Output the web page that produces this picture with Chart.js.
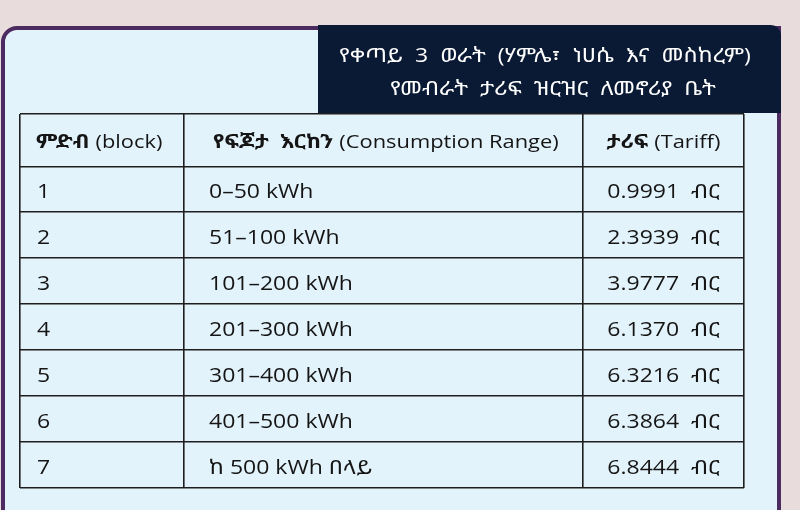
<!DOCTYPE html>
<html>
<head>
<meta charset="utf-8">
<script src="https://cdn.jsdelivr.net/npm/chart.js@4.4.1/dist/chart.umd.min.js"></script>
<style>
html,body{margin:0;padding:0;background:#e8dcdc;}
#wrap{width:800px;height:510px;position:relative;}
</style>
</head>
<body>
<div id="wrap"><canvas id="c" width="800" height="510"></canvas></div>
<script>
// ---- data ----
const titleLines = ['የቀጣይ  3  ወራት  (ሃምሌ፣  ነሀሴ  እና  መስከረም)', 'የመብራት  ታሪፍ  ዝርዝር  ለመኖሪያ  ቤት'];
const headerAm = ['ምድብ', 'የፍጆታ  እርከን', 'ታሪፍ'];
const headerEn = ['(block)', '(Consumption Range)', '(Tariff)'];
const blocks = ['1', '2', '3', '4', '5', '6', '7'];
const ranges = ['0–50 kWh', '51–100 kWh', '101–200 kWh', '201–300 kWh', '301–400 kWh', '401–500 kWh', 'ከ 500 kWh በላይ'];
const tariffs = [0.9991, 2.3939, 3.9777, 6.1370, 6.3216, 6.3864, 6.8444];
const currency = 'ብር';

// ---- layout (table units) ----
const colEdges = [0, 164, 563, 724];
const rowEdges = [0, 53, 98, 144, 190, 236, 282, 328, 374];
const rowMid = i => (rowEdges[i] + rowEdges[i + 1]) / 2;
const FONT = '"Open Sans", "Noto Sans Ethiopic", "Abyssinica SIL", "Noto Sans", sans-serif';
const SX = 1.15;

const headerDs = {
  label: 'header', kind: 'header',
  data: headerAm.map((h, c) => ({ x: c === 2 ? (colEdges[2] + colEdges[3]) / 2 : colEdges[c] + (c === 0 ? 16 : 29), y: rowMid(0) })),
  am: headerAm, en: headerEn, align: ['left', 'left', 'center'],
  pointRadius: 0, showLine: false
};
const blockDs = {
  label: 'block', kind: 'cell',
  data: blocks.map((b, i) => ({ x: colEdges[0] + 17, y: rowMid(i + 1) })),
  text: blocks, align: 'left', pointRadius: 0
};
const rangeDs = {
  label: 'range', kind: 'cell',
  data: ranges.map((r, i) => ({ x: colEdges[1] + 25, y: rowMid(i + 1) })),
  text: ranges, align: 'left', pointRadius: 0
};
const tariffDs = {
  label: 'tariff', kind: 'cell',
  data: tariffs.map((t, i) => ({ x: (colEdges[2] + colEdges[3]) / 2, y: rowMid(i + 1) })),
  text: tariffs.map(t => t.toFixed(4) + '  ' + currency), align: 'center', pointRadius: 0
};

function drawScaled(ctx, text, x, y, align) {
  ctx.save();
  ctx.translate(x, y);
  ctx.scale(SX, 1);
  ctx.textAlign = align;
  ctx.fillText(text, 0, 0);
  ctx.restore();
}

const tablePlugin = {
  id: 'tablePlugin',
  beforeDraw(chart) {
    const ctx = chart.ctx;
    ctx.save();
    ctx.fillStyle = '#e8dcdc';
    ctx.fillRect(0, 0, chart.width, chart.height);
    // card
    ctx.beginPath();
    ctx.moveTo(3, 530);
    ctx.lineTo(3, 42);
    ctx.arcTo(3, 28, 17, 28, 14);
    ctx.lineTo(779, 28);
    ctx.lineTo(779, 530);
    ctx.closePath();
    ctx.fillStyle = '#e3f3fb';
    ctx.fill();
    ctx.strokeStyle = '#4b2b60';
    ctx.lineWidth = 4;
    ctx.stroke();
    // navy header box
    ctx.beginPath();
    ctx.moveTo(318, 25);
    ctx.lineTo(771, 25);
    ctx.arcTo(781, 25, 781, 35, 10);
    ctx.lineTo(781, 113);
    ctx.lineTo(318, 113);
    ctx.closePath();
    ctx.fillStyle = '#0b1a34';
    ctx.fill();
    // title
    ctx.fillStyle = '#ffffff';
    ctx.textBaseline = 'middle';
    ctx.font = '20px ' + FONT;
    drawScaled(ctx, titleLines[0], 545, 56, 'center');
    drawScaled(ctx, titleLines[1], 553, 89, 'center');
    ctx.restore();
  },
  afterDatasetsDraw(chart) {
    const ctx = chart.ctx;
    ctx.save();
    ctx.fillStyle = '#151515';
    ctx.textBaseline = 'middle';
    chart.data.datasets.forEach((ds, di) => {
      const meta = chart.getDatasetMeta(di);
      meta.data.forEach((pt, j) => {
        const x = pt.x, y = pt.y + 2;
        if (ds.kind === 'header') {
          ctx.font = 'bold 19px ' + FONT;
          const w1 = ctx.measureText(ds.am[j]).width * SX;
          ctx.font = '19px ' + FONT;
          const sp = 6;
          const w2 = ctx.measureText(ds.en[j]).width * SX;
          let start = x;
          if (ds.align[j] === 'center') start = x - (w1 + sp + w2) / 2;
          ctx.font = 'bold 19px ' + FONT;
          drawScaled(ctx, ds.am[j], start, y, 'left');
          ctx.font = '19px ' + FONT;
          drawScaled(ctx, ds.en[j], start + w1 + sp, y, 'left');
        } else {
          ctx.font = '20px ' + FONT;
          drawScaled(ctx, ds.text[j], x, y + 1, ds.align);
        }
      });
    });
    ctx.restore();
  }
};

const gridOpts = { color: '#1e1e1e', lineWidth: 1.6, drawTicks: false };

new Chart(document.getElementById('c'), {
  type: 'scatter',
  data: { datasets: [headerDs, blockDs, rangeDs, tariffDs] },
  options: {
    responsive: false,
    animation: false,
    events: [],
    layout: { padding: { left: 20, right: 56, top: 114, bottom: 22 } },
    plugins: { legend: { display: false }, tooltip: { enabled: false }, title: { display: false } },
    scales: {
      x: {
        type: 'linear', min: colEdges[0], max: colEdges[3],
        afterBuildTicks: s => { s.ticks = colEdges.map(v => ({ value: v })); },
        afterFit: s => { s.height = 0; },
        ticks: { display: false },
        grid: gridOpts,
        border: { display: false }
      },
      y: {
        type: 'linear', reverse: true, min: rowEdges[0], max: rowEdges[rowEdges.length - 1],
        afterBuildTicks: s => { s.ticks = rowEdges.map(v => ({ value: v })); },
        afterFit: s => { s.width = 0; },
        ticks: { display: false },
        grid: gridOpts,
        border: { display: false }
      }
    }
  },
  plugins: [tablePlugin]
});
</script>
</body>
</html>
